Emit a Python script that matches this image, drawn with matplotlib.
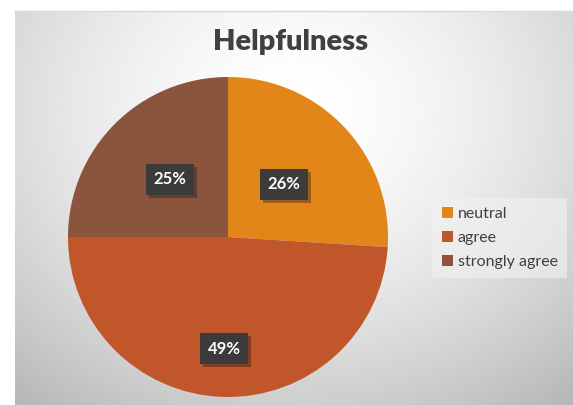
import numpy as np
import matplotlib.pyplot as plt
import matplotlib.patheffects as pe

labels = ["neutral", "agree", "strongly agree"]
values = [26, 49, 25]
colors = ["#E3861A", "#C0562A", "#8B553D"]
label_dist = [0.48, 0.70, 0.51]

plt.rcParams['font.family'] = ['Lato', 'DejaVu Sans']

W, H = 573, 405
fig = plt.figure(figsize=(W / 100, H / 100), dpi=100)
fig.patch.set_facecolor("white")

# radial gradient chart area
bg = fig.add_axes([15 / W, 0, (W - 15) / W, (H - 11) / H])
yy, xx = np.mgrid[0:1:300j, 0:1:400j]
r = np.sqrt(((xx - 0.5) / 0.75) ** 2 + ((yy - 0.25) / 0.9) ** 2)
shade = np.clip(1.0 - 0.26 * r ** 1.6, 0, 1)
bg.imshow(shade, cmap="gray", vmin=0, vmax=1, aspect="auto",
          extent=[0, 1, 1, 0], interpolation="bilinear")
bg.set_axis_off()
fig.add_artist(plt.Line2D([15 / W, 1], [(H - 11) / H] * 2,
                          color="#d9d9d9", lw=1))

cx, cy, rad = 228, 237, 160
ax = fig.add_axes([(cx - rad) / W, (H - cy - rad) / H, 2 * rad / W, 2 * rad / H])
wedges, _ = ax.pie(values, colors=colors, startangle=90, counterclock=False,
                   radius=1, wedgeprops=dict(linewidth=0))
for w in wedges:
    w.set_path_effects([pe.SimpleLineShadow(offset=(1.5, -1.5), alpha=0.15,
                                            shadow_color="black"), pe.Normal()])
ax.set_xlim(-1, 1)
ax.set_ylim(-1, 1)
ax.set_aspect("equal")
ax.set_axis_off()

for w, v, d in zip(wedges, values, label_dist):
    ang = np.deg2rad((w.theta1 + w.theta2) / 2)
    t = ax.text(d * np.cos(ang), d * np.sin(ang), f"{v}%", ha="center", va="center",
                color="white", fontsize=12, fontweight="bold",
                bbox=dict(boxstyle="square,pad=0.45", fc="#3b3b3b", ec="none"))
    t.get_bbox_patch().set_path_effects([pe.SimplePatchShadow(offset=(2, -2), alpha=0.35),
                                         pe.Normal()])

fig.text(291 / W, 1 - 42 / H, "Helpfulness", ha="center", va="center",
         fontsize=21, fontweight="heavy", color="#404040")

leg = fig.legend(wedges, labels, loc="center left",
                 bbox_to_anchor=(432 / W, 1 - 238 / H), frameon=True,
                 fontsize=11.5, handlelength=0.7, handleheight=0.7,
                 handletextpad=0.3, labelspacing=0.6, borderpad=0.6,
                 fancybox=False, borderaxespad=0)
leg.get_frame().set_facecolor("#f2f2f2")
leg.get_frame().set_alpha(0.6)
leg.get_frame().set_edgecolor("none")
for txt in leg.get_texts():
    txt.set_color("#404040")

fig.savefig("out.png", dpi=100)
